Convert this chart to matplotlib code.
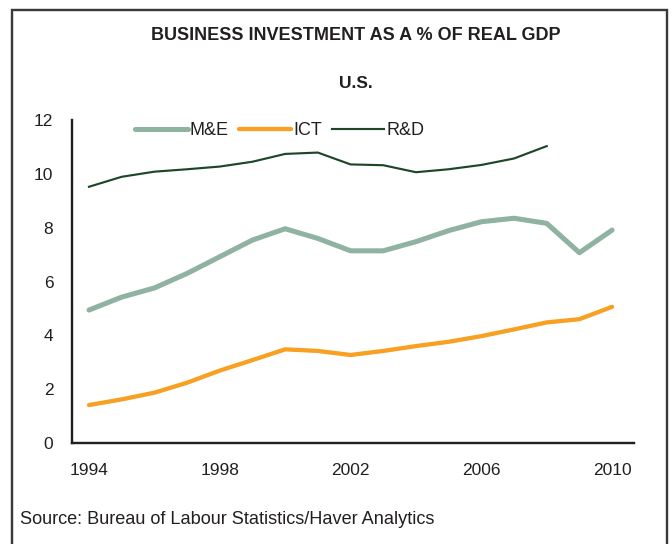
import matplotlib
matplotlib.use("Agg")
from matplotlib import pyplot as plt
from matplotlib.patches import Rectangle

years = list(range(1994, 2011))
me_share = [4.94, 5.42, 5.76, 6.30, 6.92, 7.54, 7.96, 7.60, 7.14, 7.14,
            7.48, 7.89, 8.22, 8.35, 8.16, 7.07, 7.91]
ict_share = [1.41, 1.62, 1.87, 2.24, 2.69, 3.08, 3.48, 3.42, 3.27, 3.42,
             3.60, 3.76, 3.97, 4.22, 4.48, 4.60, 5.06]
rd_years = list(range(1994, 2009))
rd_share = [9.52, 9.89, 10.08, 10.17, 10.27, 10.45, 10.74, 10.79, 10.35, 10.32,
            10.06, 10.17, 10.33, 10.57, 11.03]
x_ticks = [1994, 1998, 2002, 2006, 2010]
y_ticks = [0, 2, 4, 6, 8, 10, 12]

plt.rcParams["font.family"] = ["Liberation Sans", "DejaVu Sans"]
text_color = "#231f20"

fig = plt.figure(figsize=(7, 544 / 96), dpi=96)
ax = fig.add_axes([72 / 672, 101 / 544, 562 / 672, 323 / 544])

ax.plot(years, me_share, color="#8fb3a0", lw=3.8, label="M&E", solid_capstyle="round")
ax.plot(years, ict_share, color="#f7a021", lw=3.2, label="ICT", solid_capstyle="round")
ax.plot(rd_years, rd_share, color="#1c4626", lw=1.6, label="R&D")

ax.set_xlim(1993.48, 2010.67)
ax.set_ylim(0, 12)
ax.set_xticks(x_ticks)
ax.set_yticks(y_ticks)
ax.tick_params(length=0, labelsize=13, labelcolor=text_color)
ax.tick_params(axis="y", pad=14)
ax.tick_params(axis="x", pad=15)
for side in ("top", "right"):
    ax.spines[side].set_visible(False)
for side in ("left", "bottom"):
    ax.spines[side].set_linewidth(1.8)
    ax.spines[side].set_color(text_color)

ax.legend(loc="upper left", bbox_to_anchor=(0.1, 1.016), borderaxespad=0,
          ncol=3, frameon=False, fontsize=13.5, handlelength=2.9,
          handletextpad=0.12, columnspacing=0.55, labelcolor=text_color)

fig.text(356 / 672, 1 - 35 / 544, "BUSINESS INVESTMENT AS A % OF REAL GDP",
         ha="center", va="center", fontsize=13.5, fontweight="bold", color=text_color)
fig.text(356 / 672, 1 - 84 / 544, "U.S.", ha="center", va="center",
         fontsize=13, fontweight="bold", color=text_color)
fig.text(20 / 672, 1 - 519 / 544, "Source: Bureau of Labour Statistics/Haver Analytics",
         ha="left", va="center", fontsize=13.6, color=text_color)

# box around the whole panel, open at the bottom edge
fig.patches.append(Rectangle((12 / 672, -0.05), 655 / 672, 1.05 - 10 / 544,
                             transform=fig.transFigure, fill=False,
                             edgecolor="#3a3a3a", lw=1.8))

fig.savefig("out.png", dpi=96)
